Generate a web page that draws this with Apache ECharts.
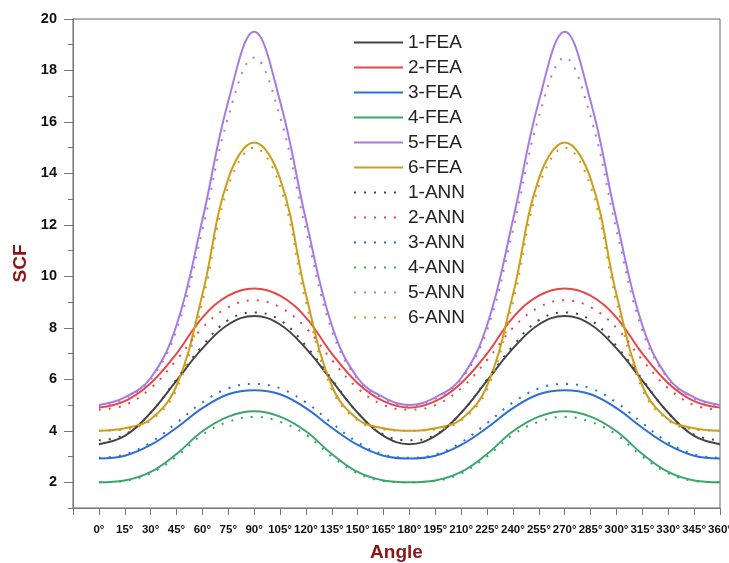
<!DOCTYPE html>
<html>
<head>
<meta charset="utf-8">
<script src="https://cdn.jsdelivr.net/npm/echarts@6/dist/echarts.min.js"></script>
<style>
  html, body { margin: 0; padding: 0; background: #fff; }
  #main { width: 729px; height: 563px; }
</style>
</head>
<body>
<div id="main"></div>
<script>
var angles = [0, 15, 30, 45, 60, 75, 90, 105, 120, 135, 150, 165, 180,
    195, 210, 225, 240, 255, 270, 285, 300, 315, 330, 345, 360];
var yLabels = [2, 4, 6, 8, 10, 12, 14, 16, 18, 20];

var fea1 = [3.48, 3.8, 4.7, 5.95, 7.2, 8.13, 8.46, 8.13, 7.2, 5.95, 4.7, 3.8, 3.48,
    3.8, 4.7, 5.95, 7.2, 8.13, 8.46, 8.13, 7.2, 5.95, 4.7, 3.8, 3.48];
var fea2 = [4.9, 5.15, 5.85, 7.0, 8.4, 9.25, 9.53, 9.25, 8.4, 7.0, 5.85, 5.15, 4.9,
    5.15, 5.85, 7.0, 8.4, 9.25, 9.53, 9.25, 8.4, 7.0, 5.85, 5.15, 4.9];
var fea3 = [2.92, 3.03, 3.45, 4.12, 4.88, 5.42, 5.58, 5.42, 4.88, 4.12, 3.45, 3.03, 2.92,
    3.03, 3.45, 4.12, 4.88, 5.42, 5.58, 5.42, 4.88, 4.12, 3.45, 3.03, 2.92];
var fea4 = [2.0, 2.07, 2.4, 3.1, 3.98, 4.55, 4.76, 4.55, 3.98, 3.1, 2.4, 2.07, 2.0,
    2.07, 2.4, 3.1, 3.98, 4.55, 4.76, 4.55, 3.98, 3.1, 2.4, 2.07, 2.0];
var fea5 = [5.0, 5.3, 6.05, 8.1, 12.2, 16.8, 19.5, 16.8, 12.2, 8.1, 6.05, 5.3, 5.0,
    5.3, 6.05, 8.1, 12.2, 16.8, 19.5, 16.8, 12.2, 8.1, 6.05, 5.3, 5.0];
var fea6 = [4.0, 4.1, 4.45, 5.75, 9.3, 13.8, 15.2, 13.8, 9.3, 5.75, 4.45, 4.1, 4.0,
    4.1, 4.45, 5.75, 9.3, 13.8, 15.2, 13.8, 9.3, 5.75, 4.45, 4.1, 4.0];

var ann1 = [3.63, 3.85, 4.7, 6.0, 7.3, 8.3, 8.6, 8.3, 7.3, 6.0, 4.7, 3.85, 3.63,
    3.85, 4.7, 6.0, 7.3, 8.3, 8.6, 8.3, 7.3, 6.0, 4.7, 3.85, 3.63];
var ann2 = [4.82, 5.0, 5.65, 6.75, 8.0, 8.8, 9.07, 8.8, 8.0, 6.75, 5.65, 5.0, 4.82,
    5.0, 5.65, 6.75, 8.0, 8.8, 9.07, 8.8, 8.0, 6.75, 5.65, 5.0, 4.82];
var ann3 = [2.95, 3.08, 3.55, 4.3, 5.1, 5.65, 5.82, 5.65, 5.1, 4.3, 3.55, 3.08, 2.95,
    3.08, 3.55, 4.3, 5.1, 5.65, 5.82, 5.65, 5.1, 4.3, 3.55, 3.08, 2.95];
var ann4 = [2.0, 2.05, 2.35, 3.0, 3.85, 4.35, 4.54, 4.35, 3.85, 3.0, 2.35, 2.05, 2.0,
    2.05, 2.35, 3.0, 3.85, 4.35, 4.54, 4.35, 3.85, 3.0, 2.35, 2.05, 2.0];
var ann5 = [4.95, 5.25, 6.0, 7.9, 11.8, 16.2, 18.5, 16.2, 11.8, 7.9, 6.0, 5.25, 4.95,
    5.25, 6.0, 7.9, 11.8, 16.2, 18.5, 16.2, 11.8, 7.9, 6.0, 5.25, 4.95];
var ann6 = [4.0, 4.05, 4.4, 5.6, 9.0, 13.5, 15.0, 13.5, 9.0, 5.6, 4.4, 4.05, 4.0,
    4.05, 4.4, 5.6, 9.0, 13.5, 15.0, 13.5, 9.0, 5.6, 4.4, 4.05, 4.0];

var names = ["1-FEA", "2-FEA", "3-FEA", "4-FEA", "5-FEA", "6-FEA",
    "1-ANN", "2-ANN", "3-ANN", "4-ANN", "5-ANN", "6-ANN"];
var colors = ["#454545", "#e8474a", "#2c6fd6", "#3aa66a", "#a87ae0", "#cc9e1c"];

var myChart = echarts.init(document.getElementById("main"));

function pairs(values) {
    return angles.map(function (a, i) {
        return [a, values[i]];
    });
}

function makeSeries(name, values, color, dotted) {
    return {
        name: name,
        type: "line",
        smooth: 0.4,
        symbol: "none",
        lineStyle: {
            color: color,
            width: 2,
            type: dotted ? [2, 8] : "solid",
        },
        itemStyle: {
            color: color,
        },
        data: pairs(values),
    };
}

var feaData = [fea1, fea2, fea3, fea4, fea5, fea6];
var annData = [ann1, ann2, ann3, ann4, ann5, ann6];
var series = [];
for (var i = 0; i < 6; i++) {
    series.push(makeSeries(names[i], feaData[i], colors[i], false));
}
for (var j = 0; j < 6; j++) {
    series.push(makeSeries(names[j + 6], annData[j], colors[j], true));
}

var option = {
    animation: false,
    textStyle: {
        fontFamily: "Liberation Sans, Arial, sans-serif",
    },
    grid: {
        left: 73,
        right: 9,
        top: 19,
        bottom: 55,
        outerBoundsMode: "none",
        containLabel: false,
        show: true,
        borderColor: "#666",
        borderWidth: 1,
    },
    legend: {
        data: names,
        orient: "vertical",
        left: 353,
        top: 33,
        padding: 0,
        itemWidth: 49,
        itemHeight: 14,
        itemGap: 6,
        itemStyle: {
            opacity: 0,
        },
        textStyle: {
            fontSize: 19,
            color: "#222",
        },
    },
    xAxis: {
        type: "value",
        min: -15,
        max: 360,
        interval: 15,
        name: "Angle",
        nameLocation: "middle",
        nameGap: 35,
        nameTextStyle: {
            color: "#8b1414",
            fontSize: 19,
            fontWeight: "bold",
        },
        axisLine: {
            show: true,
            onZero: false,
            lineStyle: { color: "#777" },
        },
        axisTick: {
            show: true,
            inside: false,
            length: 7,
            lineStyle: { color: "#777" },
        },
        axisLabel: {
            margin: 16,
            fontSize: 11.5,
            fontWeight: "bold",
            color: "#111",
            showMinLabel: true,
            showMaxLabel: true,
            hideOverlap: false,
            formatter: function (v) {
                return v < 0 ? "" : v + "°";
            },
        },
        splitLine: { show: false },
    },
    yAxis: [
        {
            type: "value",
            min: 1,
            max: 20,
            interval: 1,
            name: "SCF",
            nameLocation: "middle",
            nameGap: 41,
            nameTextStyle: {
                color: "#8b1414",
                fontSize: 19,
                fontWeight: "bold",
            },
            axisLine: {
                show: true,
                onZero: false,
                lineStyle: { color: "#777" },
            },
            axisTick: {
                show: true,
                length: 9,
                customValues: yLabels,
                lineStyle: { color: "#777" },
            },
            axisLabel: {
                margin: 16,
                fontSize: 14.5,
                fontWeight: "bold",
                color: "#111",
                customValues: yLabels,
            },
            splitLine: { show: false },
        },
        {
            type: "value",
            min: 1,
            max: 20,
            interval: 1,
            position: "left",
            axisLine: { show: false, onZero: false },
            axisTick: {
                show: true,
                length: 5,
                lineStyle: { color: "#777" },
            },
            axisLabel: { show: false },
            splitLine: { show: false },
        },
    ],
    series: series,
};

option && myChart.setOption(option);
</script>
</body>
</html>
